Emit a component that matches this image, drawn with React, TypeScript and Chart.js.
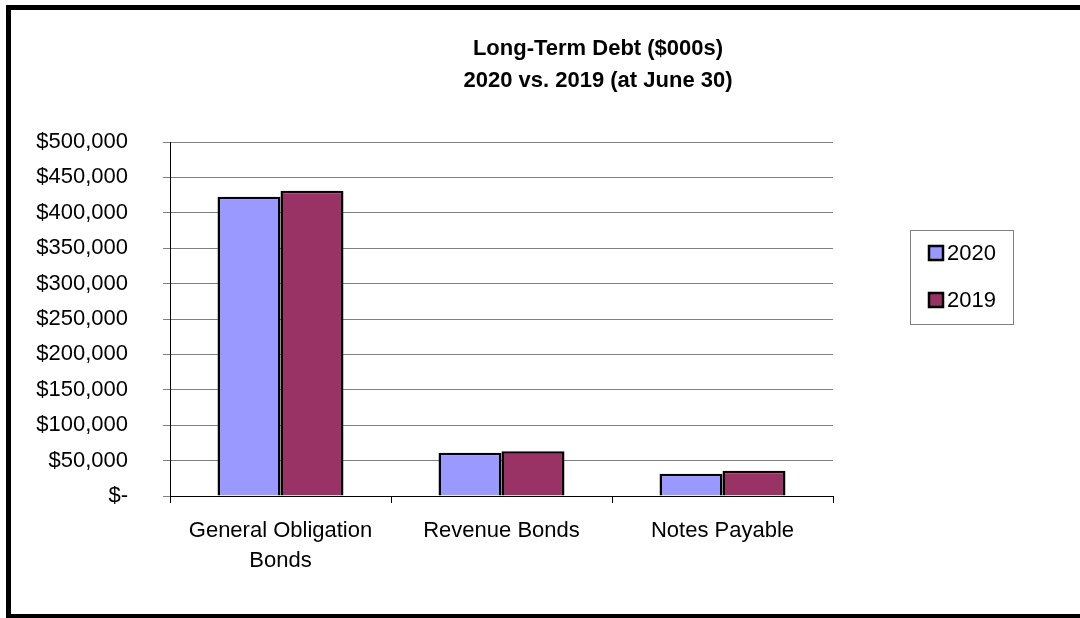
import React, { useEffect, useRef } from "react";
import { Chart, registerables } from "chart.js";

Chart.register(...registerables);

const categories: (string | string[])[] = [["General Obligation", "Bonds"], "Revenue Bonds", "Notes Payable"];
const seriesNames = ["2020", "2019"];
const values2020 = [422600, 61200, 31500];
const values2019 = [431200, 63100, 35700];
const titleLines = ["Long-Term Debt ($000s)", "2020 vs. 2019 (at June 30)"];
const colors = ["#9999FF", "#993366"];

const FONT = "'Liberation Sans', Arial, sans-serif";

const overlayPlugin = {
  id: "overlay",
  afterDraw(chart: any) {
    const ctx = chart.ctx;
    ctx.save();
    ctx.fillStyle = "#000";
    ctx.font = `bold 22px ${FONT}`;
    ctx.textAlign = "center";
    ctx.textBaseline = "middle";
    ctx.fillText(titleLines[0], 598, 49);
    ctx.fillText(titleLines[1], 598, 81);
    ctx.strokeStyle = "#808080";
    ctx.lineWidth = 1;
    ctx.strokeRect(910.5, 230.5, 103, 94);
    const ys = [253, 300];
    chart.data.datasets.forEach((ds: any, i: number) => {
      const y = ys[i];
      ctx.fillStyle = ds.backgroundColor;
      ctx.fillRect(929, y - 7, 14, 14);
      ctx.strokeStyle = "#000";
      ctx.lineWidth = 2.5;
      ctx.strokeRect(929, y - 7, 14, 14);
      ctx.fillStyle = "#000";
      ctx.font = `22px ${FONT}`;
      ctx.textAlign = "left";
      ctx.textBaseline = "middle";
      ctx.fillText(ds.label, 947, y + 1);
    });
    ctx.restore();
  },
};

export default function App() {
  const ref = useRef<HTMLCanvasElement>(null);
  useEffect(() => {
    const chart = new Chart(ref.current!, {
      type: "bar",
      data: {
        labels: categories,
        datasets: [
          { label: seriesNames[0], data: values2020, backgroundColor: colors[0], borderColor: "#000", borderWidth: 2.5 },
          { label: seriesNames[1], data: values2019, backgroundColor: colors[1], borderColor: "#000", borderWidth: 2.5 },
        ],
      },
      options: {
        animation: false,
        responsive: false,
        devicePixelRatio: 1,
        layout: { padding: { top: 142, right: 247, bottom: 0, left: 0 } },
        datasets: { bar: { categoryPercentage: 0.57, barPercentage: 1 } } as any,
        plugins: { legend: { display: false }, title: { display: false }, tooltip: { enabled: false } },
        scales: {
          x: {
            afterFit: (s: any) => { s.height = 122; },
            grid: { drawOnChartArea: false, drawTicks: true, tickLength: 7, color: "#000", offset: true },
            border: { color: "#000", width: 1 },
            ticks: { color: "#000", font: { family: FONT, size: 22, lineHeight: 1.36 }, padding: 13, maxRotation: 0 },
          },
          y: {
            min: 0,
            max: 500000,
            afterFit: (s: any) => { s.width = 170; },
            grid: { color: "#808080", tickLength: 7, tickColor: "#808080" },
            border: { color: "#000", width: 1 },
            ticks: {
              stepSize: 50000,
              color: "#000",
              padding: 35,
              font: { family: FONT, size: 22 },
              callback: (v: any) => (v === 0 ? "$-" : "$" + Number(v).toLocaleString("en-US")),
            },
          },
        },
      },
      plugins: [overlayPlugin],
    });
    return () => chart.destroy();
  }, []);
  return (
    <div style={{ position: "absolute", left: 0, top: 0, width: 1080, height: 618, overflow: "hidden", background: "#fff" }}>
      <canvas ref={ref} width={1080} height={618} style={{ position: "absolute", left: 0, top: 0 }} />
      <div style={{ position: "absolute", left: 6, top: 5, width: 1200, height: 604, border: "5px solid #000", pointerEvents: "none" }} />
    </div>
  );
}
